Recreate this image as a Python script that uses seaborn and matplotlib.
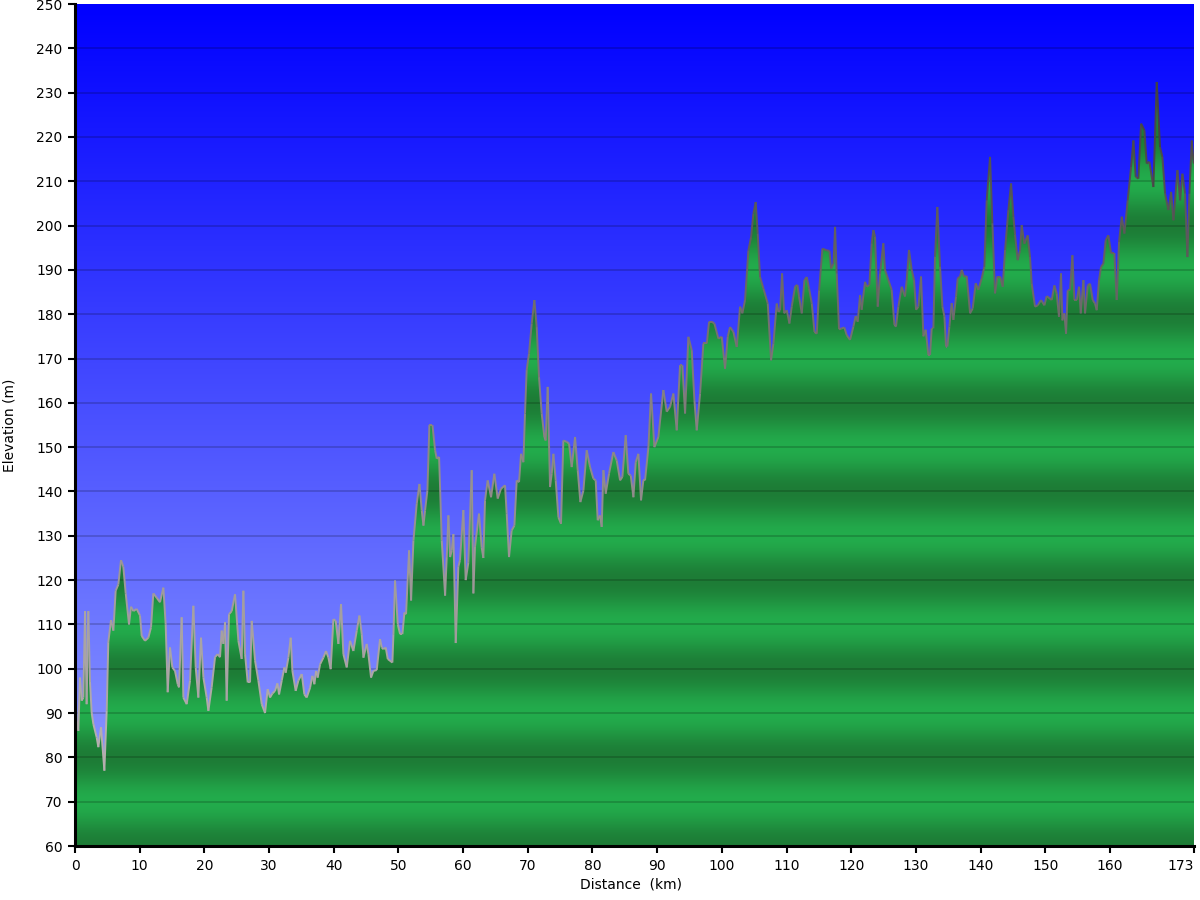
import numpy as np
import pandas as pd
import seaborn as sns
import matplotlib
matplotlib.use("Agg")
import matplotlib.pyplot as plt
from matplotlib.collections import LineCollection
from matplotlib.colors import LinearSegmentedColormap, Normalize

distance_km = [
    0.0, 0.26, 0.52, 0.77, 1.03, 1.29, 1.55, 1.80, 2.06, 2.32, 2.58, 2.84, 3.35, 3.61, 4.02, 4.54, 4.90, 5.15,
    5.57, 5.93, 6.29, 6.70, 7.11, 7.47, 7.84, 8.35, 8.66, 9.02, 9.54, 10.05, 10.31, 10.82, 11.34, 11.75, 12.11,
    12.63, 13.14, 13.66, 14.02, 14.33, 14.69, 15.05, 15.46, 15.88, 16.08, 16.49, 16.75, 17.27, 17.78, 18.30,
    18.66, 19.07, 19.48, 19.85, 20.36, 20.62, 21.13, 21.65, 22.06, 22.42, 22.68, 22.94, 23.20, 23.45, 23.81,
    24.23, 24.74, 25.26, 25.77, 26.03, 26.29, 26.70, 27.06, 27.32, 27.84, 28.35, 28.87, 29.38,
    29.79, 30.15, 30.51, 30.93, 31.29, 31.55, 31.96, 32.37, 32.58, 32.99, 33.35, 33.61, 34.12, 34.53, 35.05,
    35.46, 35.82, 36.34, 36.70, 37.01, 37.27, 37.52, 37.89, 38.40, 38.81, 39.18, 39.53, 39.95, 40.31, 40.72,
    41.13, 41.49, 42.01, 42.52, 43.04, 43.56, 43.97, 44.33, 44.59, 45.10, 45.36, 45.77, 46.13, 46.65, 47.16,
    47.42, 47.68, 48.04, 48.35, 49.07, 49.23, 49.48, 49.90, 50.26, 50.62, 50.93, 51.18, 51.65, 51.96, 52.32,
    52.83, 53.25, 53.61, 53.87, 54.12, 54.48, 54.79, 55.26, 55.67, 55.93, 56.29, 56.70, 57.22, 57.47, 57.73,
    57.99, 58.25, 58.50,
    58.86, 59.27, 59.52, 60.04, 60.40, 60.81, 61.33, 61.59, 61.84, 62.46, 62.87, 63.13, 63.39, 63.80, 64.32,
    64.83, 65.35, 65.86, 66.48, 66.74, 67.10, 67.51, 67.93, 68.29, 68.65, 68.96, 69.32, 69.57, 69.83, 70.19,
    70.61, 71.02, 71.38, 71.74, 72.15, 72.56, 72.77, 73.08, 73.44, 73.70, 73.96, 74.32, 74.73, 75.14, 75.50,
    76.02, 76.38, 76.79, 77.31, 77.72, 78.13, 78.60, 79.11, 79.63, 80.14, 80.50, 80.81, 81.17, 81.43, 81.69,
    82.05, 82.56, 83.23, 83.75, 84.27, 84.63, 85.14, 85.55, 85.92, 86.33, 86.69, 87.10, 87.51, 87.87, 88.13,
    88.65, 89.06, 89.57, 90.19, 90.96, 91.48, 92.00, 92.51, 93.03, 93.54, 93.90, 94.32, 94.83, 95.35, 95.76,
    96.12, 96.64, 97.15, 97.67, 98.03, 98.44, 98.85, 99.47, 99.99, 100.50, 100.91, 101.27, 101.79, 102.31,
    102.82, 103.18, 103.59, 104.11, 104.52, 104.88, 105.24, 105.55, 105.91, 106.43, 107.10, 107.61, 107.98,
    108.49, 108.75, 109.01, 109.32, 109.63, 110.04, 110.45, 110.81, 111.33, 111.69, 111.95, 112.36, 112.77,
    113.13, 113.49, 113.91, 114.32, 114.68, 115.04, 115.55, 116.22, 116.64, 116.89, 117.26, 117.51,
    117.76, 118.12, 118.53, 118.94, 119.30, 119.82, 120.34, 120.70, 121.01, 121.37, 121.62, 122.14, 122.40,
    122.81, 123.17, 123.43, 123.69, 124.10, 124.46, 124.97, 125.23, 125.75, 126.26, 126.68, 126.93, 127.29,
    127.81, 128.32, 128.58, 128.94, 129.36, 129.72, 130.03, 130.39, 130.80, 131.16, 131.52, 131.93, 132.19,
    132.45, 132.71, 132.96, 133.32, 133.74, 134.10, 134.41, 134.66, 134.87, 135.18, 135.54, 135.80, 136.21,
    136.47, 136.83, 137.09, 137.45, 137.86, 138.38, 138.79, 139.25, 139.66, 140.18, 140.59, 140.95, 141.47,
    141.83, 142.24, 142.60, 143.02, 143.43, 143.79, 144.30, 144.72, 145.08,
    145.33, 145.74, 146.10, 146.36, 146.77, 147.29, 147.65, 147.91, 148.42, 148.84, 149.35, 149.87, 150.23,
    151.00, 151.41, 151.77, 152.13, 152.44, 152.65, 152.96, 153.22, 153.47, 153.84, 154.20, 154.51, 154.87,
    155.23, 155.49, 155.90, 156.16, 156.57, 156.93, 157.34, 157.70, 157.96, 158.32, 158.63, 158.99, 159.35,
    159.76, 160.18, 160.69, 161.05, 161.41, 161.83, 162.24, 162.75, 163.27, 163.63, 163.99, 164.40, 164.82,
    165.33, 165.69, 166.10, 166.72, 167.24, 167.75, 168.11, 168.53, 169.04, 169.46, 169.82, 170.44, 170.85,
    171.21, 171.62, 171.98, 172.29, 172.65, 172.91, 173.0,
]

elevation_m = [
    98, 88.3, 86, 98, 92.8, 93.5, 113, 92, 113, 97, 90, 87.5, 84.5, 82.3, 86.8, 77, 90.5, 106,
    111, 108.6, 117.6, 119, 124.5, 123, 117, 110, 114, 113, 113.5, 112, 107.4, 106.3, 107, 109.3, 117,
    116, 115, 118.3, 110, 94.7, 104.8, 100.3, 99.5, 96.5, 95.8, 111.6, 93.5, 92, 97.3, 114.2,
    100.3, 93.5, 107, 98, 93.5, 90.5, 95.8, 102.6, 103.3, 102.6, 108.6, 105.6, 110.5, 92.8, 112.3,
    113, 116.8, 106.3, 102.2, 117.6, 103.3, 96.9, 96.9, 110.8, 101.8, 97.3, 92, 90,
    95.4, 93.5, 94.4, 95, 96.7, 94.2, 97.3, 100.3, 99.1, 102.5, 107, 99.5, 95, 97.3, 98.8,
    94.2, 93.5, 95.7, 98.4, 96.5, 99.5, 98, 101, 102.5, 104, 102.5, 99.9, 111.2, 110.8, 105.6,
    114.6, 103.3, 100.3, 106.3, 104, 108.6, 112, 107.8, 102.5, 105.6, 103.3, 98, 99.5, 99.7, 106.7,
    104.8, 104.4, 104.8, 102.2, 101.4, 107.8, 119.9, 110, 107.8, 107.8, 112.7, 112.3, 126.7, 115.4, 128.9,
    137.2, 141.7, 135.7, 132.3, 135.7, 140.2, 155, 155, 149.3, 147.4, 147.8, 128.9, 116.5, 125.2, 134.6,
    125.2, 126.7, 130.4,
    105.8, 123, 124.5, 135.8, 120, 123.9, 144.8, 117, 127.5, 135, 127.4, 125, 138, 142.5, 138.7,
    144, 138.4, 140.6, 141.4, 135, 125.2, 131.2, 132.3, 142.5, 142.1, 148.5, 146.6, 157.6, 167.4, 171.1,
    177.9, 183.2, 177.1, 165.8, 157.6, 152.3, 151.5, 163.6, 141, 144, 148.5, 142.5, 134.2, 132.7, 151.5,
    151.2, 150.8, 145.5, 152.3, 144.8, 137.6, 140.2, 149.3, 145.5, 142.9, 142.5, 133.5, 134.6, 132, 144.8,
    139.5, 144, 148.9, 147, 142.5, 143.3, 152.7, 144, 143.6, 138.7, 146.6, 148.5, 138, 142.5, 142.5,
    150, 162.1, 150, 152.3, 162.9, 158, 159.1, 162.1, 153.8, 168.5, 168.5, 157.6, 174.9, 171.9, 160.6,
    153.8, 162.1, 173.4, 173.4, 178.3, 178.3, 177.9, 174.5, 174.9, 167.7, 174.9, 177.1, 176, 172.6,
    181.7, 180.2, 183.2, 194.4, 197.4, 202.7, 205.3, 198.2, 188.4, 185.8, 182.4, 169.6, 173.4,
    182.4, 180.5, 180.9, 189.2, 180.2, 180.9, 177.9, 181.7, 186.3, 186.6, 183.9, 180.2, 187.7,
    188.4, 185.8, 182.4, 176, 175.6, 185.4, 194.8, 194.4, 194.3, 190.3, 191.4, 199.7,
    189.2, 176.6, 176.8, 177, 175.3, 174.2, 177.2, 179.6, 178.3, 184.3, 181, 187.3, 186.2,
    186.6, 196, 199, 197.5, 181.7, 189.2, 196, 190, 187.7, 185.5, 177.6, 177.2, 181.7,
    186.2, 184, 187.7, 194.5, 190, 187.7, 181, 181.7, 188.5, 175, 176.5, 170.8, 170.8,
    176.8, 176.8, 193, 204.2, 190.7, 181.7, 179.5, 172.7, 172.7, 177.2, 182.5, 178.7, 184,
    188.1, 188.5, 190, 188.5, 188.6, 180.2, 181.3, 187, 185.5, 188.1, 190.7, 205.7, 215.5,
    200.5, 184.7, 188.5, 188.5, 186.2, 194.5, 203.5, 209.5, 202,
    198, 192.2, 194.4, 200.1, 195.9, 197.8, 192.9, 186.9, 181.7, 182, 183.2, 182, 184.1,
    183.2, 186.5, 184.7, 179.4, 189.2, 178.6, 180.2, 175.6, 185.4, 185.4, 193.3, 183.2, 183.2,
    186.2, 180.2, 187.7, 180.2, 186.5, 186.9, 183.2, 182.4, 180.9, 187.7, 190.7, 191.4, 196.7,
    197.8, 193.8, 193.8, 183.2, 196.3, 202, 198.2, 205.7, 213.2, 219.2, 211, 210.6, 223,
    221.5, 214, 214.4, 208.7, 232.4, 217.7, 215.5, 207.2, 203.5, 207.6, 201.2, 212.5, 205.7,
    211.7, 207.2, 192.9, 207.2, 219.2, 214.7, 214,
]

x_ticks = [0, 10, 20, 30, 40, 50, 60, 70, 80, 90, 100, 110, 120, 130, 140, 150, 160, 173]
y_ticks = list(range(60, 251, 10))
x_label = "Distance  (km)"
y_label = "Elevation (m)"

df = pd.DataFrame({"distance": distance_km, "elevation": elevation_m})

sns.set_theme(style="white")
plt.rcParams["font.family"] = ["DejaVu Sans"]

fig = plt.figure(figsize=(12, 9), dpi=100)
ax = fig.add_axes([75 / 1200, 54 / 900, 1119 / 1200, 842 / 900])

xmin, xmax = 0, 173
ymin, ymax = 60, 250

# sky gradient background
n = 600
f = np.linspace(0, 1, n)[:, None]  # 0 bottom -> 1 top
bottom_c = np.array([150, 164, 255]) / 255
top_c = np.array([0, 0, 255]) / 255
sky = (bottom_c * (1 - f) + top_c * f)[:, None, :]
ax.imshow(sky, extent=[xmin, xmax, ymin, ymax], origin="lower", aspect="auto",
          interpolation="bilinear", zorder=0)

# green banded fill
ev = np.linspace(ymin, ymax, 2000)
t = 0.5 * (1 + np.cos(2 * np.pi * (ev - 60) / 20))
light = np.array([35, 172, 76]) / 255
dark = np.array([29, 124, 54]) / 255
green = (light[None, :] * (1 - t[:, None]) + dark[None, :] * t[:, None])[:, None, :]
gim = ax.imshow(green, extent=[xmin, xmax, ymin, ymax], origin="lower", aspect="auto",
                interpolation="bilinear", zorder=1)
poly = ax.fill_between(df["distance"], df["elevation"], ymin, facecolor="none", edgecolor="none", zorder=1)
gim.set_clip_path(poly.get_paths()[0], transform=ax.transData)

# horizontal grid lines
for yv in y_ticks[1:-1]:
    ax.axhline(yv, color="black", alpha=0.22, lw=1.1, zorder=3)

# profile line with grey gradient
sns.lineplot(data=df, x="distance", y="elevation", ax=ax, estimator=None, sort=False,
             color="#707070", lw=1.4, zorder=4)
ln = ax.lines[-1]
xy = ln.get_xydata()
ln.remove()
segs = np.stack([xy[:-1], xy[1:]], axis=1)
mid = 0.5 * (xy[:-1, 1] + xy[1:, 1])
lcmap = LinearSegmentedColormap.from_list("g", ["#b4aeae", "#858080", "#3a3a3a"])
lc = LineCollection(segs, cmap=lcmap, norm=Normalize(85, 235), linewidths=1.4, zorder=4)
lc.set_array(mid)
ax.add_collection(lc)

ax.set_xlim(xmin, xmax)
ax.set_ylim(ymin, ymax)
ax.set_xticks(x_ticks)
ax.set_yticks(y_ticks)
ax.set_xticklabels([str(v) for v in x_ticks])
ax.set_yticklabels([str(v) for v in y_ticks])
ax.tick_params(axis="both", which="major", direction="out", length=5, width=1.5,
               color="black", labelsize=10, labelcolor="black", pad=4)
ax.xaxis.set_ticks_position("bottom")
ax.yaxis.set_ticks_position("left")
ax.tick_params(bottom=True, left=True)
# keep the last distance label inside the figure (right aligned at the end tick)
ax.get_xticklabels()[-1].set_horizontalalignment("right")

for side in ["top", "right"]:
    ax.spines[side].set_visible(False)
for side in ["left", "bottom"]:
    ax.spines[side].set_visible(True)
    ax.spines[side].set_color("black")
    ax.spines[side].set_linewidth(2.2)
    ax.spines[side].set_zorder(6)

ax.set_xlabel(x_label, fontsize=10, color="black")
ax.set_ylabel(y_label, fontsize=10, color="black")
ax.xaxis.set_label_coords((631 - 75) / 1119, -(877 - 846) / 842)
ax.xaxis.label.set_va("top")
ax.yaxis.set_label_coords(-(75 - 17) / 1119, 0.5)
ax.grid(False)

fig.savefig("out.png", dpi=100)
